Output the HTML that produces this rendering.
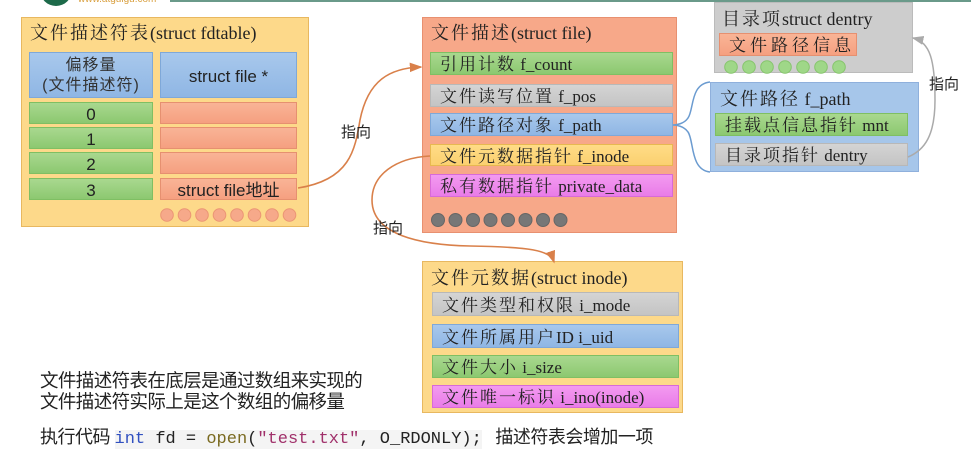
<!DOCTYPE html>
<html><head><meta charset="utf-8"><style>
*{margin:0;padding:0;box-sizing:border-box}
body{width:971px;height:451px;background:#fff;position:relative;overflow:hidden;font-family:"Liberation Serif","Noto Serif CJK SC",serif;color:#222}
.a{position:absolute}
.box{position:absolute;border:1px solid #e8b860}
.r{position:absolute;font-size:17px;line-height:1;display:flex;align-items:center;padding-left:9px;padding-top:2px;white-space:pre}
.r b,.t b{font-weight:normal;letter-spacing:2px}
.t{position:absolute;font-size:18px;white-space:pre;line-height:1}
.green{background:linear-gradient(#a9d88f,#8cc870);border:1px solid #7fbf63}
.gray{background:linear-gradient(#d4d4d4,#c4c4c4);border:1px solid #b8b8b8}
.blue{background:linear-gradient(#a8c8ec,#8fb6e4);border:1px solid #7fa8d8}
.yel{background:linear-gradient(#ffdc86,#fbd070);border:1px solid #e8b850}
.pink{background:linear-gradient(#f39af0,#e97ce8);border:1px solid #d86ad8}
.sal{background:linear-gradient(#f9b496,#f5a080);border:1px solid #e69070}
.s{font-family:"Liberation Sans","Noto Sans CJK SC",sans-serif;letter-spacing:0}
.c{justify-content:center;padding-left:0}
</style></head><body>
<div class="a" style="left:40px;top:-26px;width:32px;height:32px;border-radius:50%;background:#1d6a4a"></div>
<div class="a s" style="left:78px;top:-6px;font-size:10px;color:#d9a040">www.atguigu.com</div>
<div class="a" style="left:170px;top:0;width:801px;height:2px;background:#6a9a8a"></div>

<!-- fdtable -->
<div class="box" style="left:21px;top:17px;width:288px;height:210px;background:#fdd98a"></div>
<div class="t" style="left:30px;top:24px"><b>文件描述符表</b>(struct fdtable)</div>
<div class="r blue c s" style="left:29px;top:52px;width:124px;height:46px;font-size:16px;text-align:center;line-height:20px;color:#333;letter-spacing:1px"><span>偏移量<br>(文件描述符)</span></div>
<div class="r blue c s" style="left:160px;top:52px;width:137px;height:46px;font-size:17px">struct file *</div>
<div class="r green c s" style="left:29px;top:102px;width:124px;height:22px">0</div>
<div class="r green c s" style="left:29px;top:127px;width:124px;height:22px">1</div>
<div class="r green c s" style="left:29px;top:152px;width:124px;height:22px">2</div>
<div class="r green c s" style="left:29px;top:178px;width:124px;height:22px">3</div>
<div class="r sal" style="left:160px;top:102px;width:137px;height:22px"></div>
<div class="r sal" style="left:160px;top:127px;width:137px;height:22px"></div>
<div class="r sal" style="left:160px;top:152px;width:137px;height:22px"></div>
<div class="r sal c s" style="left:160px;top:178px;width:137px;height:22px">struct file地址</div>

<!-- struct file -->
<div class="box" style="left:422px;top:17px;width:255px;height:216px;background:#f7a889;border-color:#e89070"></div>
<div class="t" style="left:431px;top:24px"><b>文件描述</b>(struct file)</div>
<div class="r green" style="left:430px;top:52px;width:243px;height:23px"><span><b>引用计数</b> f_count</span></div>
<div class="r gray" style="left:430px;top:84px;width:243px;height:23px"><span><b>文件读写位置</b> f_pos</span></div>
<div class="r blue" style="left:430px;top:113px;width:243px;height:23px"><span><b>文件路径对象</b> f_path</span></div>
<div class="r yel" style="left:430px;top:144px;width:243px;height:22px"><span><b>文件元数据指针</b> f_inode</span></div>
<div class="r pink" style="left:430px;top:174px;width:243px;height:23px"><span><b>私有数据指针</b> private_data</span></div>

<!-- dentry -->
<div class="box" style="left:714px;top:2px;width:199px;height:71px;background:#cdcdcd;border-color:#bbb"></div>
<div class="t" style="left:722px;top:10px"><b>目录项</b>struct dentry</div>
<div class="r sal" style="left:719px;top:33px;width:138px;height:23px"><span><b style="letter-spacing:4px">文件路径信息</b></span></div>

<!-- f_path -->
<div class="box" style="left:710px;top:82px;width:209px;height:90px;background:#a6c6ea;border-color:#8fb0dc"></div>
<div class="t" style="left:720px;top:90px"><b>文件路径</b> f_path</div>
<div class="r green" style="left:715px;top:113px;width:193px;height:23px"><span><b>挂载点信息指针</b> mnt</span></div>
<div class="r gray" style="left:715px;top:143px;width:193px;height:23px"><span><b>目录项指针</b> dentry</span></div>

<!-- inode -->
<div class="box" style="left:422px;top:261px;width:261px;height:152px;background:#fdd98a"></div>
<div class="t" style="left:431px;top:269px"><b>文件元数据</b>(struct inode)</div>
<div class="r gray" style="left:432px;top:292px;width:247px;height:24px"><span><b>文件类型和权限</b> i_mode</span></div>
<div class="r blue" style="left:432px;top:324px;width:247px;height:24px"><span><b>文件所属用户</b>ID i_uid</span></div>
<div class="r green" style="left:432px;top:355px;width:247px;height:23px"><span><b>文件大小</b> i_size</span></div>
<div class="r pink" style="left:432px;top:385px;width:247px;height:23px"><span><b>文件唯一标识</b> i_ino(inode)</span></div>

<svg class="a" style="left:0;top:0" width="971" height="451">
<defs><marker id="mo" markerWidth="8" markerHeight="8" refX="7" refY="4" orient="auto"><path d="M0,1 L8,4 L0,7z" fill="#d9804a"/></marker>
<marker id="mg" markerWidth="8" markerHeight="8" refX="7" refY="4" orient="auto"><path d="M0,1 L8,4 L0,7z" fill="#aaa"/></marker></defs>
<g fill="#f6a98a" stroke="#eb9575">
<circle cx="167" cy="215" r="6.3"/><circle cx="184.5" cy="215" r="6.3"/><circle cx="202" cy="215" r="6.3"/><circle cx="219.5" cy="215" r="6.3"/><circle cx="237" cy="215" r="6.3"/><circle cx="254.5" cy="215" r="6.3"/><circle cx="272" cy="215" r="6.3"/><circle cx="289.5" cy="215" r="6.3"/></g>
<g fill="#777" stroke="#666">
<circle cx="438" cy="220" r="6.5"/><circle cx="455.5" cy="220" r="6.5"/><circle cx="473" cy="220" r="6.5"/><circle cx="490.5" cy="220" r="6.5"/><circle cx="508" cy="220" r="6.5"/><circle cx="525.5" cy="220" r="6.5"/><circle cx="543" cy="220" r="6.5"/><circle cx="560.5" cy="220" r="6.5"/></g>
<g fill="#9fd788" stroke="#86c56c">
<circle cx="731" cy="67" r="6.3"/><circle cx="749" cy="67" r="6.3"/><circle cx="767" cy="67" r="6.3"/><circle cx="785" cy="67" r="6.3"/><circle cx="803" cy="67" r="6.3"/><circle cx="821" cy="67" r="6.3"/><circle cx="839" cy="67" r="6.3"/></g>
<path d="M298,188 C350,180 355,150 360,120 C368,80 390,68 421,67" fill="none" stroke="#d9804a" stroke-width="1.6" marker-end="url(#mo)"/>
<path d="M430,156 C395,158 372,175 372,200 C372,235 420,245 470,246 C530,247 550,250 554,262" fill="none" stroke="#d9804a" stroke-width="1.6" marker-end="url(#mo)"/>
<path d="M908,157 C925,150 935,135 935,100 C935,60 930,42 913,38" fill="none" stroke="#aaa" stroke-width="1.5" marker-end="url(#mg)"/>
<path d="M710,82 C690,84 694,110 688,118 C684,124 676,125 673,125 C676,125 684,126 688,132 C694,140 690,170 710,172" fill="none" stroke="#6b9bd0" stroke-width="1.5"/>
</svg>

<div class="a s" style="left:341px;top:121px;font-size:15px">指向</div>
<div class="a s" style="left:373px;top:217px;font-size:15px">指向</div>
<div class="a s" style="left:929px;top:73px;font-size:15px">指向</div>

<div class="a s" style="left:40px;top:370px;font-size:18.5px;line-height:21px;letter-spacing:-0.6px">文件描述符表在底层是通过数组来实现的<br>文件描述符实际上是这个数组的偏移量</div>
<div class="a s" style="left:40px;top:423px;font-size:18px;white-space:nowrap;letter-spacing:-0.5px">执行代码 <span style="font-family:'Liberation Mono',monospace;font-size:17px;background:#f4f4f4;letter-spacing:0"><span style="color:#3050c0">int</span> fd = <span style="color:#7a6a20">open</span>(<span style="color:#a0306a">"test.txt"</span>, O_RDONLY);</span>&nbsp;&nbsp;&nbsp;描述符表会增加一项</div>
</body></html>
